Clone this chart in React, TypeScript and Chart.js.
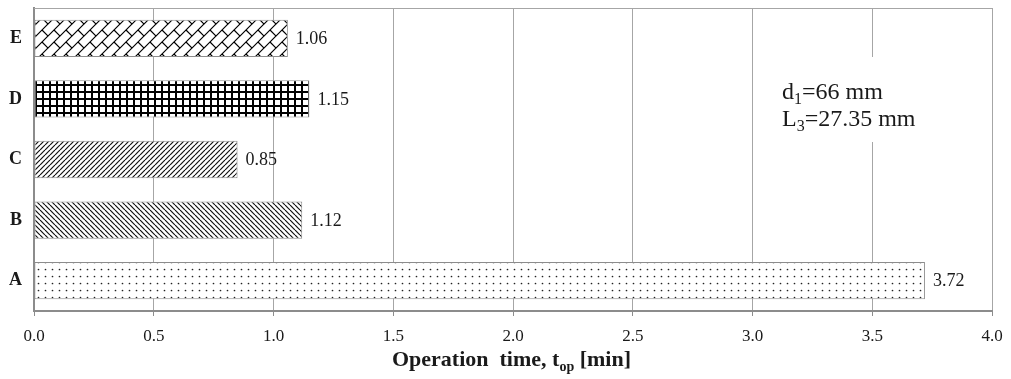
import React, { useEffect, useRef } from "react";
import { Chart, registerables } from "chart.js";

Chart.register(...registerables);

const categories = ["E", "D", "C", "B", "A"];
const values = [1.06, 1.15, 0.85, 1.12, 3.72];
const patternKinds = ["brick", "grid", "fwd", "back", "dots"];
const noteLines = [
  { base: "d", sub: "1", rest: "=66 mm" },
  { base: "L", sub: "3", rest: "=27.35 mm" },
];
const axisTitle = { base: "Operation  time, t", sub: "op", rest: " [min]" };

const SERIF = "'Liberation Serif', 'Times New Roman', serif";

function makePattern(kind: string): CanvasPattern | string {
  const c = document.createElement("canvas");
  const ctx = c.getContext("2d")!;
  let S = 8;
  if (kind === "dots") S = 7;
  if (kind === "fwd" || kind === "back") S = 5;
  if (kind === "grid") S = 7;
  if (kind === "brick") S = 12;
  c.width = S;
  c.height = S;
  ctx.fillStyle = "#ffffff";
  ctx.fillRect(0, 0, S, S);
  ctx.strokeStyle = "#000000";
  ctx.fillStyle = "#000000";
  if (kind === "dots") {
    ctx.fillStyle = "#222";
    ctx.beginPath();
    ctx.arc(3.5, 3.5, 0.85, 0, Math.PI * 2);
    ctx.fill();
  } else if (kind === "grid") {
    ctx.fillRect(0, 0, S, 2);
    ctx.fillRect(0, 0, 2, S);
  } else if (kind === "fwd" || kind === "back") {
    ctx.lineWidth = 1.2;
    ctx.strokeStyle = "#111";
    for (const off of [-S, 0, S]) {
      ctx.beginPath();
      if (kind === "fwd") {
        ctx.moveTo(off, S);
        ctx.lineTo(off + S, 0);
      } else {
        ctx.moveTo(off, 0);
        ctx.lineTo(off + S, S);
      }
      ctx.stroke();
    }
  } else if (kind === "brick") {
    ctx.lineWidth = 1.2;
    for (const ox of [-S, 0, S]) {
      for (const oy of [-S, 0, S]) {
        ctx.beginPath();
        ctx.moveTo(ox, oy + S);
        ctx.lineTo(ox + S, oy);
        ctx.moveTo(ox + S / 2, oy + S / 2);
        ctx.lineTo(ox + S, oy + S);
        ctx.stroke();
      }
    }
  }
  const p = ctx.createPattern(c, "repeat");
  return p || "#888";
}

function drawSubText(
  ctx: CanvasRenderingContext2D,
  x: number,
  y: number,
  parts: { base: string; sub: string; rest: string },
  size: number,
  weight: string,
  align: "left" | "center"
) {
  const main = `${weight} ${size}px ${SERIF}`;
  const small = `${weight} ${Math.round(size * 0.65)}px ${SERIF}`;
  ctx.font = main;
  const w1 = ctx.measureText(parts.base).width;
  const w3 = ctx.measureText(parts.rest).width;
  ctx.font = small;
  const w2 = ctx.measureText(parts.sub).width;
  const total = w1 + w2 + w3;
  let sx = align === "center" ? x - total / 2 : x;
  ctx.textAlign = "left";
  ctx.textBaseline = "alphabetic";
  ctx.font = main;
  ctx.fillText(parts.base, sx, y);
  sx += w1;
  ctx.font = small;
  ctx.fillText(parts.sub, sx, y + size * 0.22);
  sx += w2;
  ctx.font = main;
  ctx.fillText(parts.rest, sx, y);
}

const overlayPlugin = {
  id: "overlay",
  afterDatasetsDraw(chart: any) {
    const ctx: CanvasRenderingContext2D = chart.ctx;
    const area = chart.chartArea;
    const xs = chart.scales.x;
    ctx.save();
    // top border
    ctx.strokeStyle = "#a6a6a6";
    ctx.lineWidth = 1;
    ctx.beginPath();
    ctx.moveTo(area.left, area.top + 0.5);
    ctx.lineTo(area.right, area.top + 0.5);
    ctx.stroke();
    // data labels
    const meta = chart.getDatasetMeta(0);
    ctx.fillStyle = "#1a1a1a";
    ctx.font = `18px ${SERIF}`;
    ctx.textAlign = "left";
    ctx.textBaseline = "middle";
    meta.data.forEach((el: any, i: number) => {
      ctx.fillText(values[i].toFixed(2), el.x + 8, el.y + 1);
    });
    // note box
    const bx0 = xs.getPixelForValue(3.04);
    const bx1 = xs.getPixelForValue(3.96);
    ctx.fillStyle = "#ffffff";
    ctx.fillRect(bx0, 57, bx1 - bx0, 85);
    ctx.fillStyle = "#1a1a1a";
    drawSubText(ctx, 782, 99, noteLines[0], 24, "normal", "left");
    drawSubText(ctx, 782, 126, noteLines[1], 24, "normal", "left");
    // axis title
    drawSubText(ctx, 511.5, 366, axisTitle, 22, "bold", "center");
    ctx.restore();
  },
};

export default function App() {
  const ref = useRef<HTMLCanvasElement>(null);
  useEffect(() => {
    document.body.style.margin = "0";
    const patterns = patternKinds.map((k) => makePattern(k));
    const chart = new Chart(ref.current!, {
      type: "bar",
      data: {
        labels: categories,
        datasets: [
          {
            data: values,
            backgroundColor: patterns as any,
            borderColor: "#8c8c8c",
            borderWidth: 1,
            borderSkipped: false,
            categoryPercentage: 1,
            barPercentage: 0.615,
          },
        ],
      },
      options: {
        indexAxis: "y",
        animation: false,
        responsive: false,
        maintainAspectRatio: false,
        layout: { padding: { left: 0, right: 19, top: 8, bottom: 0 } },
        plugins: {
          legend: { display: false },
          tooltip: { enabled: false },
        },
        scales: {
          x: {
            min: 0,
            max: 4,
            ticks: {
              stepSize: 0.5,
              color: "#1a1a1a",
              font: { family: SERIF, size: 17 },
              padding: 10,
              maxRotation: 0,
              callback: (v: any) => Number(v).toFixed(1),
            },
            grid: {
              color: "#a6a6a6",
              lineWidth: 1,
              tickLength: 5,
              tickColor: "#8c8c8c",
            },
            border: { color: "#8c8c8c", width: 2 },
            afterFit: (s: any) => {
              s.height = 68;
              s.paddingLeft = 0;
              s.paddingRight = 0;
            },
          },
          y: {
            ticks: {
              color: "#1a1a1a",
              font: { family: SERIF, size: 18, weight: "bold" },
              padding: 12,
            },
            grid: { display: false, drawTicks: false },
            border: { color: "#8c8c8c", width: 2 },
            afterFit: (s: any) => {
              s.width = 34;
              s.paddingTop = 0;
              s.paddingBottom = 0;
            },
          },
        },
      },
      plugins: [overlayPlugin],
    });
    return () => chart.destroy();
  }, []);
  return (
    <div style={{ width: 1011, height: 379, background: "#fff" }}>
      <canvas ref={ref} width={1011} height={379} />
    </div>
  );
}
